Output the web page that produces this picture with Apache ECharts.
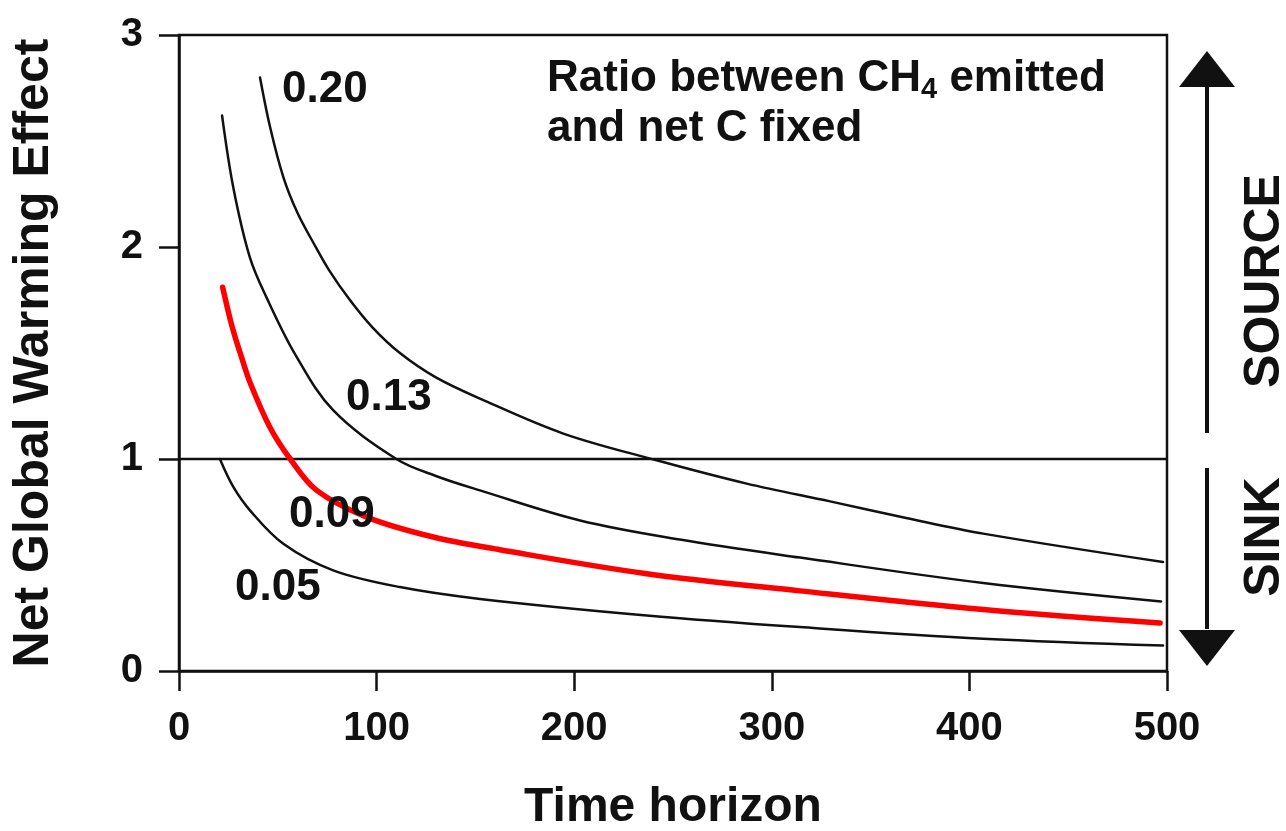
<!DOCTYPE html>
<html>
<head>
<meta charset="utf-8">
<title>Net Global Warming Effect vs Time horizon</title>
<script src="https://cdn.jsdelivr.net/npm/echarts@6/dist/echarts.min.js"></script>
<style>
  html, body { margin: 0; padding: 0; background: #ffffff; }
  #chart { width: 1286px; height: 831px; }
</style>
</head>
<body>
<div id="chart"></div>
<script>
// Net global warming effect over the time horizon, one curve per
// ratio between CH4 emitted and net C fixed. Points are [years, effect].
const ratio020 = [[41, 2.80], [46, 2.57], [52.8, 2.33], [60, 2.16], [68, 2.02], [76, 1.89], [86.5, 1.75], [98, 1.62], [111.8, 1.50], [130, 1.385], [152.3, 1.285], [194.5, 1.12], [241.7, 0.994], [287.3, 0.884], [329.5, 0.80], [368, 0.722], [407, 0.648], [498, 0.514]];
const ratio013 = [[21.8, 2.62], [27.5, 2.28], [35.9, 1.95], [44.4, 1.76], [59, 1.49], [78, 1.23], [110, 1.0], [130, 0.92], [152.3, 0.852], [203, 0.71], [253.5, 0.620], [314.3, 0.535], [407, 0.415], [497, 0.328]];
const ratio009 = [[22.1, 1.81], [27, 1.62], [32, 1.47], [36, 1.36], [46, 1.15], [56.3, 1.0], [69.7, 0.852], [95, 0.726], [128.7, 0.632], [162.4, 0.572], [236.7, 0.459], [314.3, 0.378], [407, 0.290], [496.5, 0.226]];
const ratio005 = [[20.7, 1.0], [27.5, 0.868], [35.9, 0.758], [52.8, 0.60], [78, 0.475], [111.8, 0.396], [152.3, 0.340], [236.7, 0.262], [314.3, 0.207], [407, 0.152], [498, 0.12]];

// Curve names, written next to each curve
const ratioLabels = ['0.20', '0.13', '0.09', '0.05'];

// Axis ranges and tick step
const xTicks = { min: 0, max: 500, step: 100 };
const yTicks = { min: 0, max: 3, step: 1 };

// Effect level dividing a carbon sink from a source
const sinkSourceLevel = 1;

const FONT = "'Liberation Sans', Arial, Helvetica, sans-serif";
const INK = '#111111';

const chart = echarts.init(document.getElementById('chart'), null, { renderer: 'canvas' });

function curve(name, data, color, width, z) {
  return {
    name: name,
    type: 'line',
    data: data,
    showSymbol: false,
    symbol: 'none',
    smooth: 0.35,
    lineStyle: { color: color, width: width, cap: 'round', join: 'round' },
    z: z,
    silent: true
  };
}

const series = [
  curve(ratioLabels[0], ratio020, INK, 2.5, 3),
  curve(ratioLabels[1], ratio013, INK, 2.5, 3),
  curve(ratioLabels[2], ratio009, INK, 2.5, 3),
  curve(ratioLabels[3], ratio005, INK, 2.5, 3),
  // highlighted copy of the 0.09 curve
  curve(ratioLabels[2] + ' highlight', ratio009, '#ff0000', 5.5, 5)
];

// horizontal reference line at the sink/source level
series[3].markLine = {
  silent: true,
  symbol: ['none', 'none'],
  label: { show: false },
  lineStyle: { color: INK, width: 2.3, type: 'solid' },
  data: [{ yAxis: sinkSourceLevel }]
};

const labelStyle = { fontFamily: FONT, fontWeight: 'bold', fontSize: 44, fill: INK };

function plotText(text, x, y) {
  return {
    type: 'text', x: x, y: y, z: 10,
    style: Object.assign({ text: text, align: 'left', verticalAlign: 'middle' }, labelStyle)
  };
}

const arrowX = 1207;
const graphics = [
  plotText(ratioLabels[0], 282, 90),
  plotText(ratioLabels[1], 346, 398),
  plotText(ratioLabels[2], 289, 515),
  plotText(ratioLabels[3], 235, 588),
  {
    type: 'text', x: 547, y: 54, z: 10,
    style: {
      text: '{m|Ratio between CH}{s|4}{m| emitted}\n{m|and net C fixed}',
      align: 'left', verticalAlign: 'top',
      fontFamily: FONT, fontWeight: 'bold', fill: INK,
      rich: {
        m: { fontFamily: FONT, fontWeight: 'bold', fontSize: 44, lineHeight: 50, fill: INK },
        s: { fontFamily: FONT, fontWeight: 'bold', fontSize: 29, lineHeight: 29, verticalAlign: 'bottom', fill: INK }
      }
    }
  },
  // double-headed SOURCE / SINK arrow
  { type: 'polygon', z: 10, shape: { points: [[arrowX, 51], [arrowX - 28, 87], [arrowX + 28, 87]] }, style: { fill: INK } },
  { type: 'line', z: 10, shape: { x1: arrowX, y1: 86, x2: arrowX, y2: 433 }, style: { stroke: INK, lineWidth: 4 } },
  { type: 'line', z: 10, shape: { x1: arrowX, y1: 468, x2: arrowX, y2: 629 }, style: { stroke: INK, lineWidth: 4 } },
  { type: 'polygon', z: 10, shape: { points: [[arrowX, 666], [arrowX - 28, 630], [arrowX + 28, 630]] }, style: { fill: INK } },
  {
    type: 'text', x: 1265, y: 281, rotation: Math.PI / 2, z: 10,
    style: { text: 'SOURCE', align: 'center', verticalAlign: 'middle', fontFamily: FONT, fontWeight: 'bold', fontSize: 50, fill: INK }
  },
  {
    type: 'text', x: 1265, y: 537, rotation: Math.PI / 2, z: 10,
    style: { text: 'SINK', align: 'center', verticalAlign: 'middle', fontFamily: FONT, fontWeight: 'bold', fontSize: 50, fill: INK }
  }
];

const axisCommon = {
  type: 'value',
  axisLine: { show: true, onZero: false, lineStyle: { color: INK, width: 2.5 } },
  axisTick: { show: true, inside: false, length: 20, lineStyle: { color: INK, width: 2.5 } },
  splitLine: { show: false },
  axisLabel: { fontFamily: FONT, fontWeight: 'bold', fontSize: 40, color: INK }
};

const option = {
  backgroundColor: '#ffffff',
  animation: false,
  grid: {
    left: 179, right: 119, top: 35, bottom: 160,
    containLabel: false,
    outerBoundsMode: 'none',
    show: true, borderColor: INK, borderWidth: 2.5, backgroundColor: 'transparent'
  },
  xAxis: Object.assign({}, axisCommon, {
    min: xTicks.min, max: xTicks.max, interval: xTicks.step,
    name: 'Time horizon', nameLocation: 'middle', nameGap: 113,
    nameTextStyle: { fontFamily: FONT, fontWeight: 'bold', color: INK, fontSize: 48 },
    axisLabel: Object.assign({}, axisCommon.axisLabel, { margin: 38 })
  }),
  yAxis: Object.assign({}, axisCommon, {
    min: yTicks.min, max: yTicks.max, interval: yTicks.step,
    name: 'Net Global Warming Effect', nameLocation: 'middle', nameGap: 120, nameRotate: 90,
    nameTextStyle: { fontFamily: FONT, fontWeight: 'bold', color: INK, fontSize: 50 },
    axisLabel: Object.assign({}, axisCommon.axisLabel, { margin: 36 })
  }),
  series: series,
  graphic: graphics
};

chart.setOption(option);
</script>
</body>
</html>
